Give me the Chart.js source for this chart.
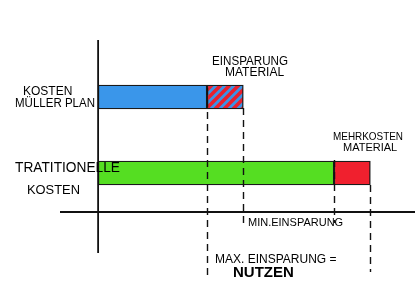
<!DOCTYPE html>
<html>
<head>
<meta charset="utf-8">
<script src="https://cdn.jsdelivr.net/npm/chart.js@4"></script>
<style>
html,body{margin:0;padding:0;background:#fff;}
#c{display:block;}
</style>
</head>
<body>
<canvas id="c" width="420" height="290"></canvas>
<script>
// ---- data ----
const categories = ['KOSTEN MÜLLER PLAN', 'TRATITIONELLE KOSTEN'];
const baseCosts = [30, 65];          // Müller-Plan costs, traditional costs
const materialDelta = [10, 10];      // material saving (hatched), extra material cost (red)
const annotationTexts = [
  'KOSTEN', 'MÜLLER PLAN', 'EINSPARUNG', 'MATERIAL',
  'TRATITIONELLE', 'KOSTEN', 'MEHRKOSTEN', 'MATERIAL',
  'MIN.EINSPARUNG', 'MAX. EINSPARUNG =', 'NUTZEN'
];

// ---- styling / layout (not data) ----
const textLayout = [
  {x: 23, y: 92, w: 50, s: 12},
  {x: 15, y: 104, w: 80, s: 12},
  {x: 212, y: 62, w: 76, s: 12},
  {x: 225, y: 73, w: 65, s: 12},
  {x: 15, y: 168, w: 105, s: 14},
  {x: 27, y: 190, w: 53, s: 13},
  {x: 333, y: 137, w: 70, s: 11},
  {x: 343, y: 148, w: 58, s: 11},
  {x: 248, y: 223, w: 99, s: 11},
  {x: 215, y: 260, w: 123, s: 12},
  {x: 233, y: 273, w: 85, s: 15, b: true}
];

function hatch() {
  const p = document.createElement('canvas');
  p.width = 9; p.height = 9;
  const g = p.getContext('2d');
  g.fillStyle = '#3a93e6';
  g.fillRect(0, 0, 9, 9);
  g.strokeStyle = '#e8202e';
  g.lineWidth = 3.6;
  g.beginPath();
  g.moveTo(-2, 11); g.lineTo(11, -2);
  g.moveTo(-5, 5); g.lineTo(5, -5);
  g.moveTo(4, 14); g.lineTo(14, 4);
  g.stroke();
  return document.getElementById('c').getContext('2d').createPattern(p, 'repeat');
}

const markers = [
  {v: baseCosts[0], y0: 88, y1: 280},
  {v: baseCosts[0] + materialDelta[0], y0: 108, y1: 226},
  {v: baseCosts[1], y0: 160, y1: 223},
  {v: baseCosts[1] + materialDelta[1], y0: 185, y1: 272}
];

const sketchPlugin = {
  id: 'sketch',
  afterDatasetsDraw(chart) {
    const ctx = chart.ctx;
    const xs = chart.scales.x;
    const ca = chart.chartArea;
    ctx.save();
    // dashed helper lines
    ctx.strokeStyle = '#111';
    ctx.lineWidth = 1.4;
    ctx.setLineDash([7, 5]);
    markers.forEach(m => {
      const px = Math.round(xs.getPixelForValue(m.v)) + 0.5;
      ctx.beginPath();
      ctx.moveTo(px, m.y0);
      ctx.lineTo(px, m.y1);
      ctx.stroke();
    });
    ctx.setLineDash([]);
    // axes
    ctx.lineWidth = 1.8;
    const x0 = xs.getPixelForValue(0);
    ctx.beginPath();
    ctx.moveTo(x0, 40); ctx.lineTo(x0, 253);
    ctx.moveTo(ca.left, ca.bottom + 1); ctx.lineTo(ca.right, ca.bottom + 1);
    ctx.stroke();
    // texts
    ctx.fillStyle = '#000';
    ctx.textBaseline = 'middle';
    ctx.textAlign = 'left';
    annotationTexts.forEach((t, i) => {
      const L = textLayout[i];
      ctx.font = (L.b ? 'bold ' : '') + L.s + 'px "Liberation Sans", Arial, sans-serif';
      ctx.fillText(t, L.x, L.y, L.w);
    });
    ctx.restore();
  }
};

new Chart(document.getElementById('c'), {
  type: 'bar',
  data: {
    labels: categories,
    datasets: [
      {
        data: baseCosts,
        backgroundColor: ['#3a96ea', '#55de22'],
        borderColor: '#1a1a1a',
        borderWidth: 1.4,
        borderSkipped: false,
        barThickness: 24
      },
      {
        data: materialDelta,
        backgroundColor: [hatch(), '#f0202e'],
        borderColor: '#1a1a1a',
        borderWidth: 1.4,
        borderSkipped: false,
        barThickness: 24
      }
    ]
  },
  options: {
    responsive: false,
    animation: false,
    devicePixelRatio: 1,
    indexAxis: 'y',
    layout: {padding: {left: 60, right: 5, top: 59, bottom: 79}},
    plugins: {legend: {display: false}, tooltip: {enabled: false}},
    scales: {
      x: {stacked: true, display: false, min: -10.5, max: 87.3},
      y: {stacked: true, display: false}
    }
  },
  plugins: [sketchPlugin]
});
</script>
</body>
</html>
